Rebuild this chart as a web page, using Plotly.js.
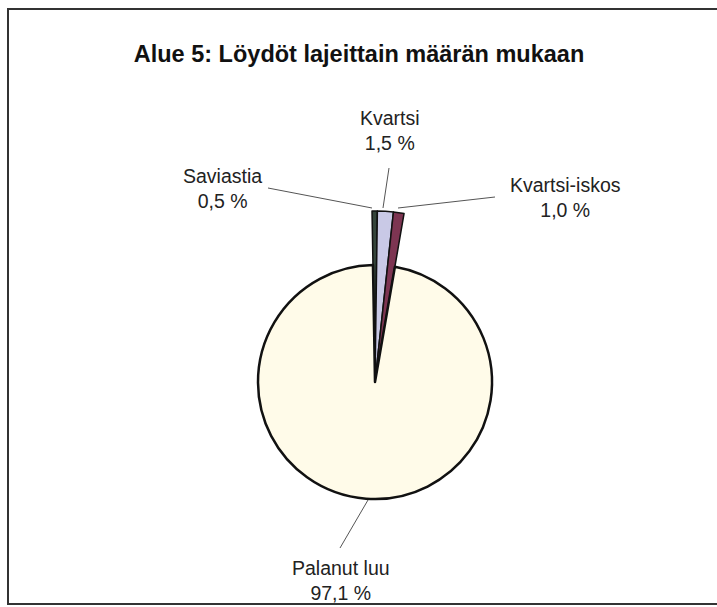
<!DOCTYPE html>
<html><head><meta charset="utf-8">
<script src="https://cdn.plot.ly/plotly-3.0.1.min.js"></script>
<style>html,body{margin:0;padding:0;background:#fff}#chart{width:717px;height:607px}</style>
</head><body><div id="chart"></div>
<script>
const categories = ["Saviastia", "Kvartsi", "Kvartsi-iskos", "Palanut luu"];
const values = [0.5, 1.5, 1.0, 97.1];
const pctLabels = ["0,5 %", "1,5 %", "1,0 %", "97,1 %"];
const colors = ["#34443a", "#c9c9e6", "#7d3552", "#fffbe9"];

const outer = {
  type: "pie", values: values, labels: categories, sort: false, direction: "clockwise", rotation: -1,
  domain: {x: [204/717, 546/717], y: [54/607, 396/607]},
  marker: {colors: [colors[0], colors[1], colors[2], "rgba(0,0,0,0)"],
           line: {color: ["#111", "#111", "#111", "rgba(0,0,0,0)"], width: [1.5, 1.5, 1.5, 0]}},
  textinfo: "none", hoverinfo: "skip", showlegend: false
};
const inner = {
  type: "pie", values: values, labels: categories, sort: false, direction: "clockwise", rotation: -1,
  domain: {x: [258/717, 492/717], y: [108/607, 342/607]},
  marker: {colors: ["rgba(0,0,0,0)", "rgba(0,0,0,0)", "rgba(0,0,0,0)", colors[3]],
           line: {color: ["rgba(0,0,0,0)", "rgba(0,0,0,0)", "rgba(0,0,0,0)", "#111"], width: [0, 0, 0, 2.5]}},
  textinfo: "none", hoverinfo: "skip", showlegend: false
};

const lblFont = {family: "Liberation Sans, Arial, sans-serif", size: 19.5, color: "#222"};
function lbl(i, x, y) {
  return {xref: "paper", yref: "paper", x: x/717, y: 1 - y/607, text: categories[i] + "<br>" + pctLabels[i],
          showarrow: false, font: lblFont, xanchor: "center", yanchor: "middle"};
}
const annotations = [lbl(0, 223, 188), lbl(1, 390, 131), lbl(2, 565, 197), lbl(3, 341, 580)];
function seg(x0, y0, x1, y1) {
  return {type: "line", xref: "paper", yref: "paper", x0: x0/717, y0: 1 - y0/607, x1: x1/717, y1: 1 - y1/607,
          line: {color: "#555", width: 1}};
}
const shapes = [
  {type: "rect", xref: "paper", yref: "paper", x0: 8/717, x1: 1.02, y0: 1-604/607, y1: 1-9/607,
   line: {color: "#333", width: 2}, fillcolor: "rgba(0,0,0,0)"},
  seg(268, 188, 372, 208), seg(389, 168, 383, 208), seg(495, 197, 398, 208), seg(340, 548, 368, 500)
];

const layout = {
  width: 717, height: 607, margin: {l: 0, r: 0, t: 0, b: 0},
  paper_bgcolor: "#fff", plot_bgcolor: "#fff",
  title: {text: "<b>Alue 5: Löydöt lajeittain määrän mukaan</b>", x: 359/717, xanchor: "center",
          y: 1-54/607, yanchor: "middle", font: {family: "Liberation Sans, Arial, sans-serif", size: 23.5, color: "#111"}},
  annotations: annotations, shapes: shapes, showlegend: false
};
Plotly.newPlot("chart", [outer, inner], layout, {displayModeBar: false, staticPlot: true});
</script></body></html>
